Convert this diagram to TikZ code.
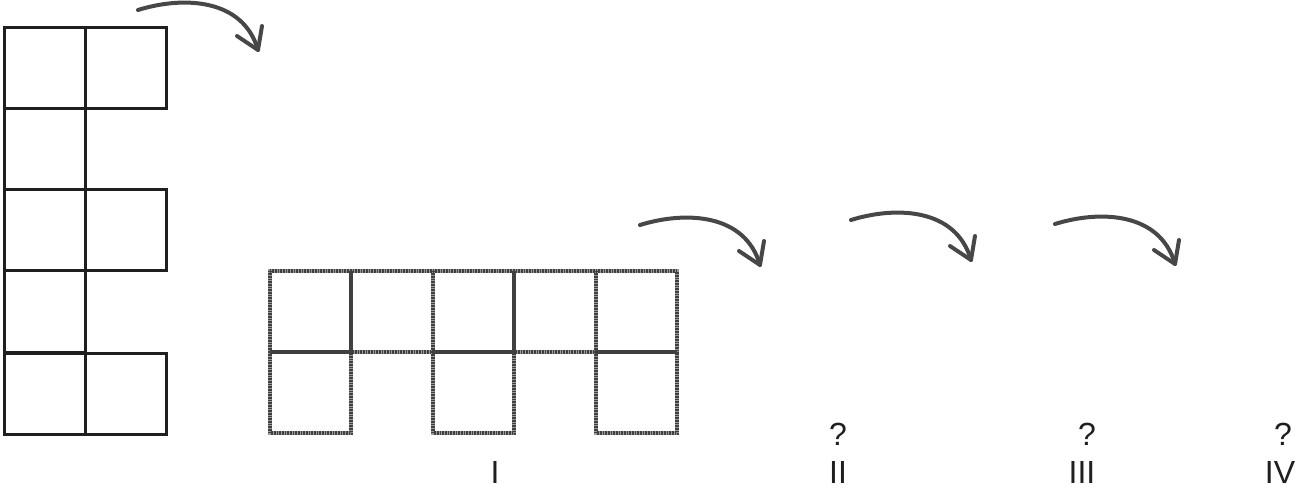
\documentclass[tikz,border=0pt]{standalone}
\usepackage{fontspec}
\setmainfont{Liberation Sans}
\begin{document}
\begin{tikzpicture}[x=1pt,y=-1pt,
  solidsq/.style={draw=black!88,line width=3pt},
  hatchbase/.style={draw=black!40,line width=4.5pt},
  hatchtop/.style={draw=black!75,line width=4.5pt,dash pattern=on 0.8pt off 0.8pt},
  curvearrow/.style={draw=black!72,line width=4pt,line cap=round,line join=round},
  lbl/.style={font=\fontsize{32}{32}\selectfont,text=black!88,anchor=base,inner sep=0pt},
  turnarrow/.pic={
    \draw[curvearrow] (0,0) .. controls (45,-14) and (105,-12) .. (120,40);
    \draw[curvearrow] (99,26) -- (120,40) -- (124,16);
  }]
\useasboundingbox (0,0) rectangle (1309,494);
% original figure
\foreach \y in {28,190,353}{
  \draw[solidsq] (4,\y) rectangle (85,\y+81);
  \draw[solidsq] (85,\y) rectangle (166,\y+81);
}
\foreach \y in {109,271}{
  \draw[solidsq] (4,\y) rectangle (85,\y+81);
}
% rotated figure (hatched)
\foreach \s in {hatchbase,hatchtop}{
  \foreach \x/\w in {270/81,351/82,433/81,514/82,596/81}{
    \draw[\s] (\x,271) rectangle (\x+\w,352);
  }
  \foreach \x/\w in {270/81,433/81,596/81}{
    \draw[\s] (\x,352) rectangle (\x+\w,433);
  }
}
% arrows
\pic at (138,10) {turnarrow};
\pic at (640,225) {turnarrow};
\pic at (851,220) {turnarrow};
\pic at (1055,224) {turnarrow};
% labels
\node[lbl] (n1) at (495,483) {I};
\node[lbl] (n2) at (838,483) {II};
\node[lbl] (n3) at (1082,483) {III};
\node[lbl] (n4) at (1280,483) {IV};
\node[lbl] (q2) at (838,445) {?};
\node[lbl] (q3) at (1087,445) {?};
\node[lbl] (q4) at (1283,445) {?};
\end{tikzpicture}
\end{document}
